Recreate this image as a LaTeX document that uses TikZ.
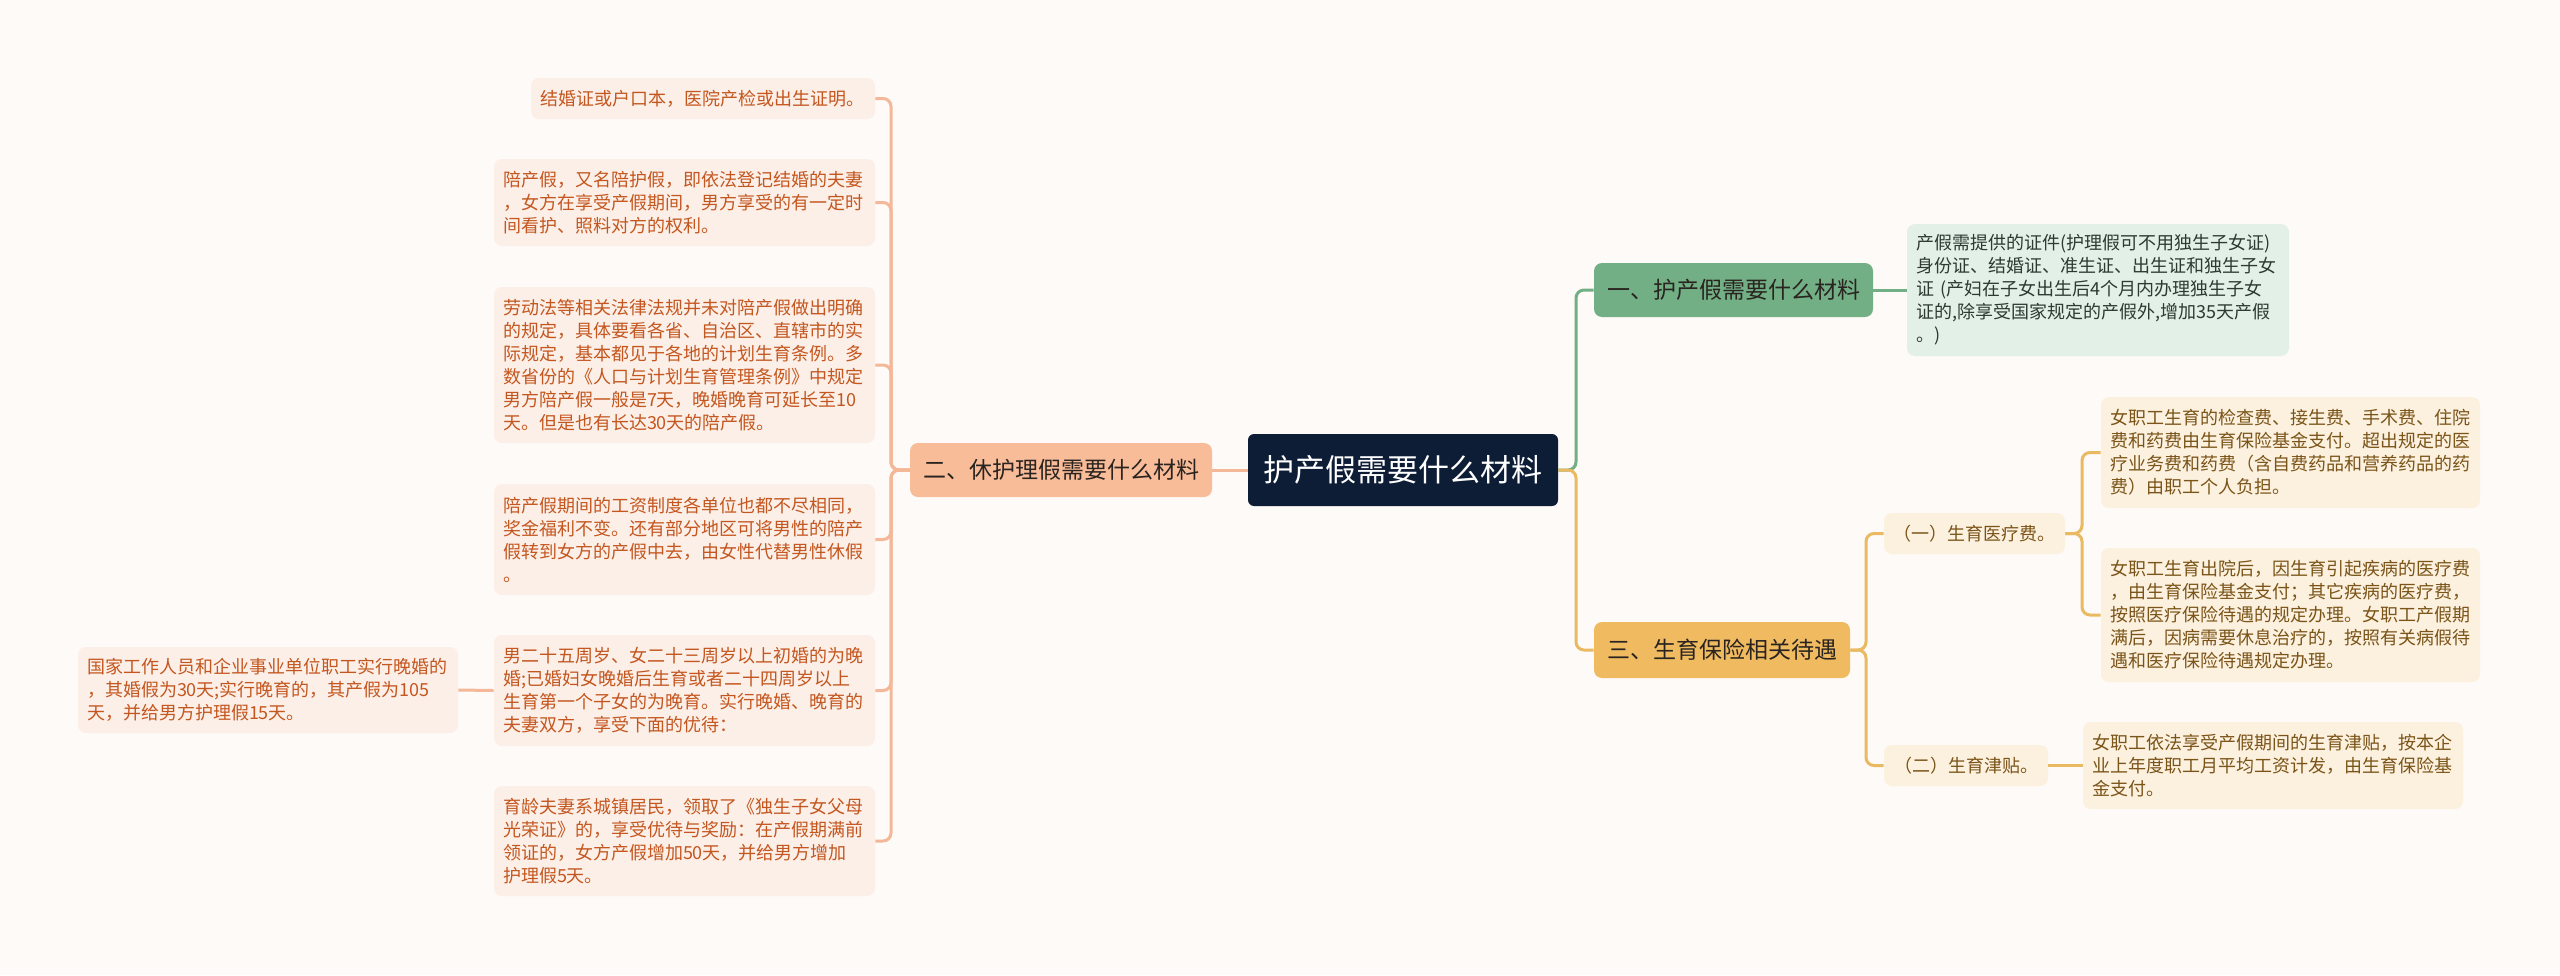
\documentclass[tikz,border=0pt]{standalone}
\usepackage{fontspec}
\setmainfont{Noto Sans CJK SC}
\definecolor{bgc}{HTML}{FEFAF8}
\definecolor{rootfill}{HTML}{0E1D36}
\definecolor{lbrfill}{HTML}{F9BC99}
\definecolor{lleaffill}{HTML}{FCEFE7}
\definecolor{ltext}{HTML}{C4561F}
\definecolor{lline}{HTML}{F4B797}
\definecolor{gbrfill}{HTML}{72AF85}
\definecolor{gleaffill}{HTML}{E2F0E7}
\definecolor{gtext}{HTML}{2C3A32}
\definecolor{yberfill}{HTML}{F0BA60}
\definecolor{yleaffill}{HTML}{FCF0DE}
\definecolor{ytext}{HTML}{7A5418}
\definecolor{yline}{HTML}{E9BA62}
\definecolor{brtext}{HTML}{2A2420}
\tikzset{
  base/.style={rounded corners=4pt, inner xsep=4.5pt, inner ysep=0pt, font=\fontsize{9}{11.5}\selectfont},
  rootbox/.style={base, rounded corners=3pt, fill=rootfill, text=white, align=center, font=\fontsize{15.5}{18}\selectfont},
  lbr/.style={base, fill=lbrfill, text=brtext, align=center, font=\fontsize{11.5}{14}\selectfont},
  gbr/.style={base, fill=gbrfill, text=brtext, align=center, font=\fontsize{11.5}{14}\selectfont},
  ybr/.style={base, fill=yberfill, text=brtext, align=center, font=\fontsize{11.5}{14}\selectfont},
  lleaf/.style={base, fill=lleaffill, text=ltext, align=left},
  gleaf/.style={base, fill=gleaffill, text=gtext, align=left},
  yleaf/.style={base, fill=yleaffill, text=ytext, align=left},
  ysub/.style={base, fill=yleaffill, text=ytext, align=center},
  conn/.style={line width=1.5pt, rounded corners=4pt},
}
\newcommand\mkbox[7]{%
  \pgfmathsetmacro\bxw{(#5-#3)*0.5}%
  \pgfmathsetmacro\bxh{(#6-#4)*0.5}%
  \pgfmathsetmacro\bxt{\bxw-9}%
  \pgfmathsetmacro\bxcx{(#3+#5)/2}%
  \pgfmathsetmacro\bxcy{(#4+#6)/2}%
  \node[#1, minimum width=\bxw pt, minimum height=\bxh pt, text width=\bxt pt] (#2) at (\bxcx,\bxcy) {#7};%
}
\begin{document}
\begin{tikzpicture}[x=0.5pt, y=-0.5pt]
\fill[bgc] (0,0) rectangle (2560,975);
\useasboundingbox (0,0) rectangle (2560,975);

% root and branches
\mkbox{rootbox}{root}{1248}{434}{1558}{506}{护产假需要什么材料}
\mkbox{lbr}{b2}{910}{443}{1212}{497}{二、休护理假需要什么材料}
\mkbox{gbr}{b1}{1594}{263}{1873}{317}{一、护产假需要什么材料}
\mkbox{ybr}{b3}{1594}{622}{1850}{678}{三、生育保险相关待遇}

% left leaves
\mkbox{lleaf}{l1}{531}{78}{875}{119}{结婚证或户口本，医院产检或出生证明。}
\mkbox{lleaf}{l2}{494}{159}{875}{246}{陪产假，又名陪护假，即依法登记结婚的夫妻\\，女方在享受产假期间，男方享受的有一定时\\间看护、照料对方的权利。}
\mkbox{lleaf}{l3}{494}{287}{875}{443}{劳动法等相关法律法规并未对陪产假做出明确\\的规定，具体要看各省、自治区、直辖市的实\\际规定，基本都见于各地的计划生育条例。多\\数省份的《人口与计划生育管理条例》中规定\\男方陪产假一般是7天，晚婚晚育可延长至10\\天。但是也有长达30天的陪产假。}
\mkbox{lleaf}{l4}{494}{484}{875}{595}{陪产假期间的工资制度各单位也都不尽相同，\\奖金福利不变。还有部分地区可将男性的陪产\\假转到女方的产假中去，由女性代替男性休假\\。}
\mkbox{lleaf}{l5}{494}{635}{875}{746}{男二十五周岁、女二十三周岁以上初婚的为晚\\婚;已婚妇女晚婚后生育或者二十四周岁以上\\生育第一个子女的为晚育。实行晚婚、晚育的\\夫妻双方，享受下面的优待：}
\mkbox{lleaf}{l6}{494}{786}{875}{896}{育龄夫妻系城镇居民，领取了《独生子女父母\\光荣证》的，享受优待与奖励：在产假期满前\\领证的，女方产假增加50天，并给男方增加\\护理假5天。}
\mkbox{lleaf}{l7}{78}{647}{458}{733}{国家工作人员和企业事业单位职工实行晚婚的\\，其婚假为30天;实行晚育的，其产假为105\\天，并给男方护理假15天。}

% right green leaf
\mkbox{gleaf}{g1}{1907}{224}{2289}{356}{产假需提供的证件(护理假可不用独生子女证)\\身份证、结婚证、准生证、出生证和独生子女\\证 (产妇在子女出生后4个月内办理独生子女\\证的,除享受国家规定的产假外,增加35天产假\\。)}

% yellow sub nodes and leaves
\mkbox{ysub}{s1}{1884}{513}{2065}{554}{（一）生育医疗费。}
\mkbox{ysub}{s2}{1884}{745}{2048}{786}{（二）生育津贴。}
\mkbox{yleaf}{ya}{2101}{397}{2480}{508}{女职工生育的检查费、接生费、手术费、住院\\费和药费由生育保险基金支付。超出规定的医\\疗业务费和药费（含自费药品和营养药品的药\\费）由职工个人负担。}
\mkbox{yleaf}{yb}{2101}{548}{2480}{682}{女职工生育出院后，因生育引起疾病的医疗费\\，由生育保险基金支付；其它疾病的医疗费，\\按照医疗保险待遇的规定办理。女职工产假期\\满后，因病需要休息治疗的，按照有关病假待\\遇和医疗保险待遇规定办理。}
\mkbox{yleaf}{yc}{2083}{722}{2463}{809}{女职工依法享受产假期间的生育津贴，按本企\\业上年度职工月平均工资计发，由生育保险基\\金支付。}

% junction coordinates
\coordinate (jl) at (891,470);
\coordinate (jr) at (1576,470);
\coordinate (j3) at (1866,650);
\coordinate (j4) at (2082,533.5);

% left connectors
\draw[conn, lline] (root.west) -- (b2.east);
\foreach \n in {l1,l2,l3,l4,l5,l6}{
  \draw[conn, lline] (b2.west) -- (jl) |- (\n.east);
}
\draw[conn, lline] (l5.west) -- (l7.east);

% right connectors
\draw[conn, gbrfill] (root.east) -- (jr) |- (b1.west);
\draw[conn, gbrfill] (b1.east) -- (g1.west);
\draw[conn, yline] (root.east) -- (jr) |- (b3.west);
\draw[conn, yline] (b3.east) -- (j3) |- (s1.west);
\draw[conn, yline] (b3.east) -- (j3) |- (s2.west);
\draw[conn, yline] (s1.east) -- (j4) |- (ya.west);
\draw[conn, yline] (s1.east) -- (j4) |- (yb.west);
\draw[conn, yline] (s2.east) -- (yc.west);
\end{tikzpicture}
\end{document}
